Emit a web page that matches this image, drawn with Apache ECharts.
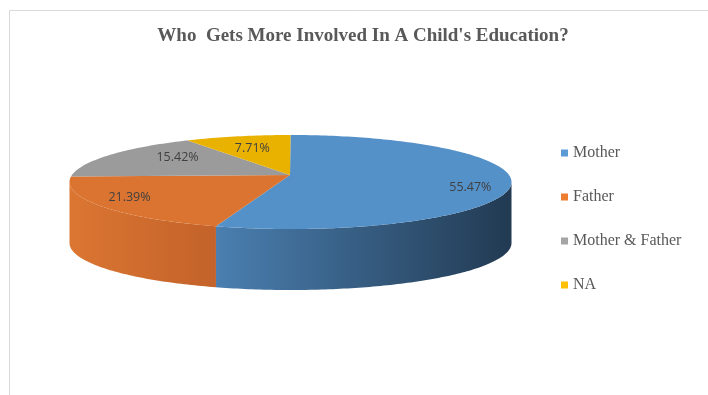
<!DOCTYPE html>
<html><head><meta charset="utf-8">
<script src="https://cdn.jsdelivr.net/npm/echarts@6/dist/echarts.min.js"></script>
<style>html,body{margin:0;padding:0;background:#fff}#c{width:708px;height:395px}</style>
</head><body><div id="c"></div>
<script>
var titleText = "Who  Gets More Involved In A Child's Education?";
var categories = ['Mother', 'Father', 'Mother & Father', 'NA'];
var values = [55.47, 21.39, 15.42, 7.71];

var topColors = ['#5591C9', '#DA7430', '#9B9B9B', '#EAB200'];
var legendColors = ['#5B9BD5', '#ED7D31', '#A5A5A5', '#FFC000'];
var sideGrad = [['#4A7FB0', '#223A52'], ['#DB7632', '#C3622A'], ['#8a8a8a', '#777'], ['#c99a00', '#b08800']];
var labelK = [0.826, 0.857, 0.62, 0.72];
var labelKy = [0.826, 0.65, 0.87, 0.72];

var G = {cx: 290.5, cy: 182, rx: 221, ry: 47, ax: 290, ay: 175, depth: 61};

function total() { var s = 0; for (var i = 0; i < values.length; i++) s += values[i]; return s; }
function startAngle(idx) { var s = 0; for (var i = 0; i < idx; i++) s += values[i]; return s / total() * 360; }
function pt(t, y0) { var r = t * Math.PI / 180; return [G.cx + G.rx * Math.sin(r), y0 - G.ry * Math.cos(r)]; }

function renderSide(params, api) {
  var i = params.dataIndex;
  var a0 = startAngle(i), a1 = a0 + api.value(0) / total() * 360;
  var s = Math.max(a0, 90), e = Math.min(a1, 270);
  if (e <= s) return {type: 'group', children: []};
  var pts = [], t;
  for (t = s; t < e; t += 1) pts.push(pt(t, G.cy));
  pts.push(pt(e, G.cy));
  var bot = [];
  for (t = s; t < e; t += 1) bot.push(pt(t, G.cy + G.depth));
  bot.push(pt(e, G.cy + G.depth));
  pts = pts.concat(bot.reverse());
  var xs = pts.map(function (p) { return p[0]; });
  var x0 = Math.min.apply(null, xs), x1 = Math.max.apply(null, xs);
  return {
    type: 'polygon', shape: {points: pts},
    style: {fill: new echarts.graphic.LinearGradient(x0, 0, x1, 0, [
      {offset: 0, color: sideGrad[i][0]}, {offset: 1, color: sideGrad[i][1]}], true)}
  };
}

function renderTop(params, api) {
  var i = params.dataIndex;
  var v = api.value(0);
  var a0 = startAngle(i), a1 = a0 + v / total() * 360;
  var pts = [[G.ax, G.ay]];
  for (var t = a0; t < a1; t += 1) pts.push(pt(t, G.cy));
  pts.push(pt(a1, G.cy));
  var mid = (a0 + a1) / 2 * Math.PI / 180;
  var lx = G.cx + G.rx * labelK[i] * Math.sin(mid), ly = G.cy - G.ry * labelKy[i] * Math.cos(mid) - 1;
  return {
    type: 'group', children: [
      {type: 'polygon', shape: {points: pts}, style: {fill: topColors[i]}},
      {type: 'text', z2: 10, style: {x: lx, y: ly, text: v.toFixed(2) + '%', align: 'center', verticalAlign: 'middle',
        font: '12.5px "Open Sans"', fill: '#404040'}}
    ]
  };
}

var chart = echarts.init(document.getElementById('c'), null, {renderer: 'canvas'});
chart.setOption({
  animation: false,
  graphic: [
    {type: 'rect', shape: {x: 9.5, y: 10.5, width: 720, height: 400}, style: {fill: '#fff', stroke: '#D9D9D9', lineWidth: 1}, z: -10},
    {type: 'text', style: {x: 363, y: 36, text: titleText, align: 'center', verticalAlign: 'middle',
      font: 'bold 19px "Liberation Serif"', fill: '#595959'}}
  ],
  legend: {
    orient: 'vertical', left: 561, top: 145, padding: 0, itemWidth: 7, itemHeight: 7, itemGap: 28, icon: 'rect',
    data: categories,
    textStyle: {fontFamily: 'Liberation Serif', fontSize: 16, color: '#595959'}
  },
  series: [
    {type: 'pie', radius: [0, 0], center: [-100, -100], silent: true, label: {show: false}, labelLine: {show: false},
      data: categories.map(function (c, i) { return {name: c, value: values[i], itemStyle: {color: legendColors[i]}}; })},
    {type: 'custom', coordinateSystem: 'none', renderItem: renderSide, data: values.map(function (v) { return [v]; }), z: 1, silent: true},
    {type: 'custom', coordinateSystem: 'none', renderItem: renderTop, data: values.map(function (v) { return [v]; }), z: 2, silent: true}
  ]
});
</script>
</body></html>
